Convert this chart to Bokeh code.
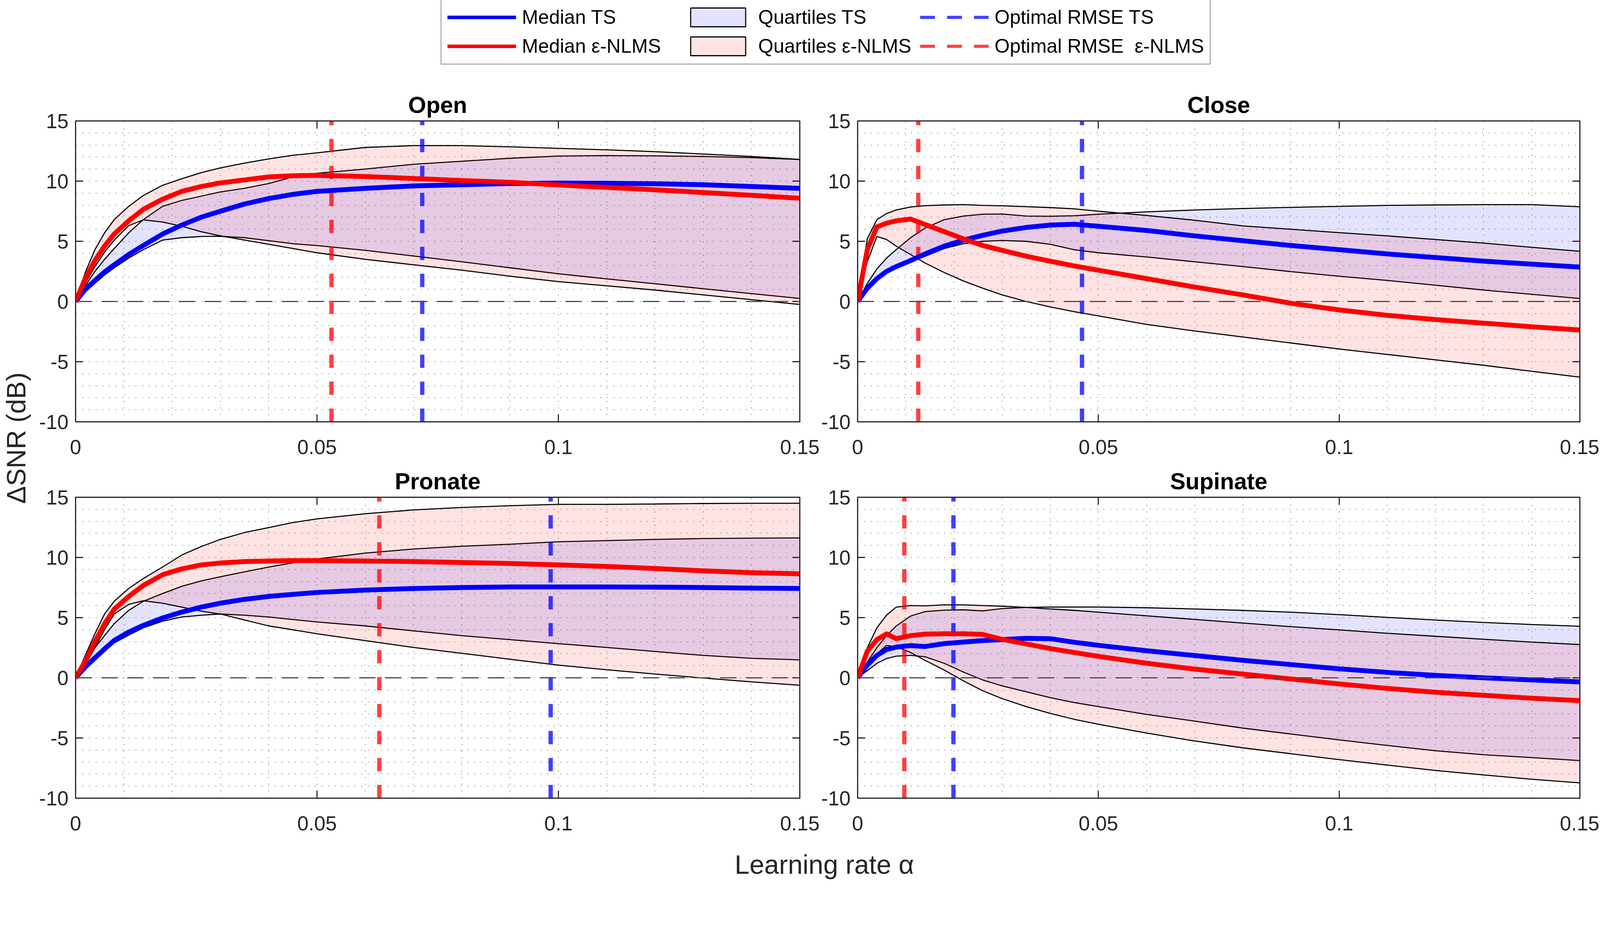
import numpy as np
from bokeh.plotting import figure
from bokeh.layouts import row, column
from bokeh.models import Range1d, FixedTicker, Span, Legend, LegendItem, Label, LinearAxis
from bokeh.embed import file_html
from bokeh.resources import INLINE

# ---------------- data ----------------
ALPHA = [0, 0.002, 0.004, 0.006, 0.008, 0.011, 0.014, 0.018, 0.022, 0.026, 0.03, 0.035,
         0.04, 0.045, 0.05, 0.06, 0.07, 0.08, 0.09, 0.1, 0.11, 0.12, 0.13, 0.14, 0.15]

X_TICKS = [0, 0.05, 0.1, 0.15]
X_TICK_LABELS = ["0", "0.05", "0.1", "0.15"]
Y_TICKS = [-10, -5, 0, 5, 10, 15]
Y_TICK_LABELS = ["-10", "-5", "0", "5", "10", "15"]
X_LIM = (0, 0.15)
Y_LIM = (-10, 15)

TITLES = ["Open", "Close", "Pronate", "Supinate"]

OPEN_MED_TS = [0, 1.0, 1.75, 2.45, 3.05, 3.9, 4.65, 5.6, 6.35, 7.0, 7.5, 8.1, 8.55, 8.9, 9.15, 9.4, 9.6, 9.7, 9.8, 9.84, 9.82, 9.78, 9.7, 9.55, 9.4]
OPEN_MED_NLMS = [0, 1.9, 3.4, 4.6, 5.6, 6.7, 7.65, 8.5, 9.15, 9.55, 9.85, 10.1, 10.35, 10.45, 10.48, 10.38, 10.22, 10.05, 9.9, 9.68, 9.48, 9.28, 9.05, 8.82, 8.58]
OPEN_Q1_TS = [0, 0.8, 1.5, 2.2, 2.8, 3.6, 4.3, 5.1, 5.3, 5.4, 5.42, 5.3, 5.05, 4.8, 4.65, 4.25, 3.78, 3.3, 2.8, 2.3, 1.88, 1.47, 1.06, 0.65, 0.25]
OPEN_Q3_TS = [0, 1.3, 2.5, 3.5, 4.4, 5.7, 6.8, 7.9, 8.4, 8.75, 9.1, 9.4, 9.8, 10.35, 10.65, 11.0, 11.4, 11.65, 11.9, 12.08, 12.12, 12.1, 12.05, 11.95, 11.8]
OPEN_Q1_NLMS = [0, 1.5, 2.9, 4.1, 5.1, 6.3, 6.78, 6.6, 6.25, 5.8, 5.45, 5.1, 4.75, 4.4, 4.05, 3.5, 3.05, 2.6, 2.1, 1.65, 1.3, 0.95, 0.55, 0.15, -0.25]
OPEN_Q3_NLMS = [0, 2.4, 4.3, 5.7, 6.8, 7.9, 8.8, 9.65, 10.2, 10.7, 11.1, 11.5, 11.85, 12.15, 12.35, 12.8, 12.95, 12.95, 12.85, 12.72, 12.6, 12.45, 12.25, 12.05, 11.8]

CLOSE_MED_TS = [0, 1.1, 1.9, 2.5, 2.9, 3.4, 3.95, 4.6, 5.1, 5.5, 5.85, 6.15, 6.35, 6.42, 6.25, 5.9, 5.45, 5.05, 4.65, 4.3, 3.95, 3.65, 3.35, 3.1, 2.86]
CLOSE_MED_NLMS = [0, 4.3, 6.2, 6.5, 6.7, 6.85, 6.4, 5.8, 5.2, 4.65, 4.25, 3.76, 3.35, 2.95, 2.6, 1.9, 1.2, 0.55, -0.15, -0.7, -1.15, -1.5, -1.8, -2.1, -2.37]
CLOSE_Q1_TS = [0, 1.0, 1.8, 2.4, 2.8, 3.3, 3.75, 4.4, 4.8, 5.0, 5.07, 5.0, 4.75, 4.3, 4.05, 3.7, 3.3, 2.9, 2.48, 2.1, 1.75, 1.35, 0.95, 0.6, 0.25]
CLOSE_Q3_TS = [0, 1.5, 2.7, 3.6, 4.3, 5.3, 6.1, 6.8, 7.1, 7.25, 7.27, 7.1, 7.08, 7.12, 7.25, 7.45, 7.6, 7.72, 7.82, 7.9, 7.98, 8.02, 8.05, 8.05, 7.87]
CLOSE_Q1_NLMS = [0, 3.3, 5.4, 5.15, 4.6, 3.9, 3.2, 2.4, 1.7, 1.1, 0.55, 0.0, -0.45, -0.85, -1.2, -1.9, -2.45, -2.95, -3.45, -3.95, -4.4, -4.85, -5.3, -5.8, -6.29]
CLOSE_Q3_NLMS = [0, 5.2, 6.8, 7.3, 7.6, 7.85, 7.96, 8.02, 8.05, 7.98, 7.95, 7.88, 7.8, 7.7, 7.5, 7.15, 6.75, 6.28, 6.0, 5.72, 5.45, 5.15, 4.85, 4.5, 4.17]

PRONATE_MED_TS = [0, 0.9, 1.65, 2.4, 3.1, 3.8, 4.35, 4.97, 5.46, 5.87, 6.2, 6.52, 6.76, 6.93, 7.09, 7.29, 7.42, 7.5, 7.55, 7.55, 7.55, 7.53, 7.5, 7.45, 7.42]
PRONATE_MED_NLMS = [0, 1.37, 3.0, 4.48, 5.7, 6.76, 7.66, 8.56, 9.05, 9.38, 9.54, 9.66, 9.7, 9.74, 9.74, 9.7, 9.66, 9.58, 9.5, 9.38, 9.25, 9.08, 8.89, 8.73, 8.64]
PRONATE_Q1_TS = [0, 0.8, 1.5, 2.2, 2.9, 3.55, 4.15, 4.7, 5.05, 5.2, 5.3, 5.2, 5.05, 4.84, 4.64, 4.31, 3.9, 3.5, 3.17, 2.84, 2.52, 2.19, 1.86, 1.62, 1.49]
PRONATE_Q3_TS = [0, 1.3, 2.5, 3.5, 4.5, 5.6, 6.35, 7.0, 7.6, 8.05, 8.4, 8.8, 9.2, 9.55, 9.87, 10.36, 10.7, 10.93, 11.1, 11.3, 11.4, 11.5, 11.57, 11.6, 11.62]
PRONATE_Q1_NLMS = [0, 1.05, 2.5, 4.0, 5.3, 6.1, 6.4, 6.2, 5.87, 5.54, 5.3, 4.8, 4.31, 3.99, 3.66, 3.09, 2.52, 2.03, 1.54, 1.05, 0.67, 0.31, -0.02, -0.34, -0.62]
PRONATE_Q3_NLMS = [0, 1.86, 3.66, 5.3, 6.36, 7.42, 8.24, 9.2, 10.2, 10.9, 11.5, 12.07, 12.48, 12.9, 13.2, 13.63, 13.95, 14.15, 14.3, 14.41, 14.41, 14.44, 14.48, 14.5, 14.5]

SUPINATE_MED_TS = [0, 1.05, 1.86, 2.35, 2.55, 2.68, 2.6, 2.84, 2.97, 3.09, 3.17, 3.28, 3.25, 2.95, 2.7, 2.25, 1.85, 1.45, 1.1, 0.75, 0.45, 0.2, 0.0, -0.18, -0.34]
SUPINATE_MED_NLMS = [0, 2.2, 3.17, 3.65, 3.25, 3.5, 3.63, 3.66, 3.66, 3.6, 3.2, 2.81, 2.43, 2.1, 1.78, 1.21, 0.72, 0.31, -0.1, -0.51, -0.88, -1.2, -1.45, -1.7, -1.9]
SUPINATE_Q1_TS = [0, 0.6, 1.2, 1.6, 1.8, 1.86, 1.75, 1.2, 0.47, -0.18, -0.67, -1.16, -1.65, -2.06, -2.39, -3.04, -3.6, -4.18, -4.67, -5.16, -5.62, -6.06, -6.39, -6.63, -6.88]
SUPINATE_Q3_TS = [0, 1.3, 2.5, 3.5, 4.3, 5.13, 5.5, 5.62, 5.65, 5.56, 5.75, 5.85, 5.88, 5.88, 5.88, 5.82, 5.72, 5.6, 5.45, 5.25, 5.02, 4.8, 4.6, 4.43, 4.28]
SUPINATE_Q1_NLMS = [0, 0.9, 2.0, 2.68, 2.6, 2.1, 1.45, 0.64, -0.26, -1.08, -1.73, -2.39, -2.96, -3.45, -3.86, -4.59, -5.25, -5.82, -6.31, -6.8, -7.25, -7.7, -8.07, -8.43, -8.73]
SUPINATE_Q3_NLMS = [0, 2.5, 4.15, 5.2, 5.87, 6.0, 5.98, 6.06, 6.06, 6.0, 5.95, 5.85, 5.72, 5.6, 5.45, 5.15, 4.85, 4.55, 4.25, 3.98, 3.7, 3.45, 3.2, 2.97, 2.76]

OPT_TS = [0.0718, 0.0466, 0.0984, 0.0199]
OPT_NLMS = [0.053, 0.0126, 0.0629, 0.0097]

LEGEND_LABELS = ["Median TS", "Median \u03b5-NLMS", "Quartiles TS", "Quartiles \u03b5-NLMS",
                 "Optimal RMSE TS", "Optimal RMSE  \u03b5-NLMS"]

# ---------------- style ----------------
FONT = "Liberation Sans"
TXT = "#262626"
BLUE = "#0000FF"
RED = "#FF0000"
FILL_ALPHA = 0.11
MED_W = 12.5
EDGE_W = 2.8
VDASH = "34 35"
VW = 11

X_MINOR = [round(0.01 * i, 2) for i in range(1, 15) if i % 5 != 0]
Y_MINOR = [v for v in range(-10, 16) if v % 5 != 0]


def style_axis(ax, ticker, standoff, labels=True):
    ax.ticker = ticker
    ax.axis_line_color = TXT
    ax.axis_line_width = 2.8
    ax.major_tick_line_color = TXT
    ax.major_tick_line_width = 2.8
    ax.major_tick_in = 19
    ax.major_tick_out = 0
    ax.minor_tick_line_color = None
    ax.major_label_standoff = standoff
    if labels:
        ax.major_label_text_font = FONT
        ax.major_label_text_font_size = "52px"
        ax.major_label_text_color = TXT
    else:
        ax.major_label_text_font_size = "0px"
        ax.major_label_text_color = None


def make_panel(k, med_ts, med_nlms, q1_ts, q3_ts, q1_nlms, q3_nlms,
               width, height, bl, br, bt, bb):
    p = figure(width=width, height=height, x_range=Range1d(*X_LIM), y_range=Range1d(*Y_LIM),
               output_backend="svg", toolbar_location=None,
               min_border_left=bl, min_border_right=br, min_border_top=bt, min_border_bottom=bb)
    p.title.text = TITLES[k]
    p.title.text_font = FONT
    p.title.text_font_size = "59px"
    p.title.text_font_style = "bold"
    p.title.text_color = "black"
    p.title.align = "center"
    p.title.standoff = 15

    xt = FixedTicker(ticks=X_TICKS, minor_ticks=X_MINOR)
    yt = FixedTicker(ticks=Y_TICKS, minor_ticks=Y_MINOR)
    style_axis(p.xaxis[0], xt, 42)
    style_axis(p.yaxis[0], yt, 14)
    p.xaxis[0].major_label_overrides = {t: s for t, s in zip(X_TICKS, X_TICK_LABELS)}
    p.yaxis[0].major_label_overrides = {t: s for t, s in zip(Y_TICKS, Y_TICK_LABELS)}
    top = LinearAxis()
    style_axis(top, FixedTicker(ticks=X_TICKS), 0, labels=False)
    p.add_layout(top, "above")
    right = LinearAxis()
    style_axis(right, FixedTicker(ticks=Y_TICKS), 0, labels=False)
    p.add_layout(right, "right")

    for g, t in ((p.xgrid[0], xt), (p.ygrid[0], yt)):
        g.ticker = t
        g.grid_line_color = "#9c9c9c"
        g.grid_line_width = 2
        g.grid_line_dash = "3 14"
        g.minor_grid_line_color = "#9c9c9c"
        g.minor_grid_line_width = 2
        g.minor_grid_line_dash = "3 14"

    p.outline_line_color = TXT
    p.outline_line_width = 2.8
    p.background_fill_color = "white"
    p.border_fill_color = "white"

    x = np.array(ALPHA)
    xs = np.concatenate([x, x[::-1]])
    p.patch(xs, np.concatenate([np.array(q3_ts), np.array(q1_ts)[::-1]]),
            fill_color=BLUE, fill_alpha=FILL_ALPHA, line_color="black", line_width=EDGE_W)
    p.patch(xs, np.concatenate([np.array(q3_nlms), np.array(q1_nlms)[::-1]]),
            fill_color=RED, fill_alpha=FILL_ALPHA, line_color="black", line_width=EDGE_W)

    p.add_layout(Span(location=0, dimension="width", line_color="#4a4a4a",
                      line_width=2.8, line_dash="42 24"))

    p.segment(x0=[OPT_NLMS[k]], y0=[Y_LIM[0]], x1=[OPT_NLMS[k]], y1=[Y_LIM[1]],
              line_color=RED, line_alpha=0.75, line_width=VW, line_dash=VDASH)
    p.segment(x0=[OPT_TS[k]], y0=[Y_LIM[0]], x1=[OPT_TS[k]], y1=[Y_LIM[1]],
              line_color=BLUE, line_alpha=0.75, line_width=VW, line_dash=VDASH)

    p.line(x, med_ts, line_color=BLUE, line_width=MED_W, line_join="round")
    p.line(x, med_nlms, line_color=RED, line_width=MED_W, line_join="round")
    return p


YL_W = 92
TL_W, TR_W = 2007, 1995
LEG_H = 190
R1_H, R2_H = 992, 963
XL_H = 108
MAIN_W = TL_W + TR_W
TOTAL_H = LEG_H + R1_H + R2_H + XL_H

p_open = make_panel(0, OPEN_MED_TS, OPEN_MED_NLMS, OPEN_Q1_TS, OPEN_Q3_TS, OPEN_Q1_NLMS, OPEN_Q3_NLMS,
                    TL_W, R1_H, 101, 52, 119, 103)
p_close = make_panel(1, CLOSE_MED_TS, CLOSE_MED_NLMS, CLOSE_Q1_TS, CLOSE_Q3_TS, CLOSE_Q1_NLMS, CLOSE_Q3_NLMS,
                     TR_W, R1_H, 93, 50, 119, 103)
p_pron = make_panel(2, PRONATE_MED_TS, PRONATE_MED_NLMS, PRONATE_Q1_TS, PRONATE_Q3_TS, PRONATE_Q1_NLMS, PRONATE_Q3_NLMS,
                    TL_W, R2_H, 101, 52, 90, 103)
p_sup = make_panel(3, SUPINATE_MED_TS, SUPINATE_MED_NLMS, SUPINATE_Q1_TS, SUPINATE_Q3_TS, SUPINATE_Q1_NLMS, SUPINATE_Q3_NLMS,
                   TR_W, R2_H, 93, 50, 90, 103)

# ---------------- legend ----------------
lf = figure(width=MAIN_W, height=LEG_H, x_range=Range1d(0, 1), y_range=Range1d(0, 1),
            output_backend="svg", toolbar_location=None, min_border=0)
lf.axis.visible = False
lf.grid.visible = False
lf.outline_line_color = None
# legend-only renderers, drawn outside the visible range of this strip
HX, HY = [2, 3, 3], [2, 2, 3]
r_mts = lf.line(HX, HY, line_color=BLUE, line_width=9)
r_mn = lf.line(HX, HY, line_color=RED, line_width=9)
r_qts = lf.patch(HX, HY, fill_color=BLUE, fill_alpha=FILL_ALPHA, line_color="black", line_width=EDGE_W)
r_qn = lf.patch(HX, HY, fill_color=RED, fill_alpha=FILL_ALPHA, line_color="black", line_width=EDGE_W)
r_ots = lf.line(HX, HY, line_color=BLUE, line_alpha=0.75, line_width=8, line_dash="38 31")
r_on = lf.line(HX, HY, line_color=RED, line_alpha=0.75, line_width=8, line_dash="38 31")
rends = [r_mts, r_mn, r_qts, r_qn, r_ots, r_on]
legend = Legend(items=[LegendItem(label=l, renderers=[r]) for l, r in zip(LEGEND_LABELS, rends)],
                location=(1036, LEG_H - 165), orientation="vertical", ncols=3,
                glyph_width=176, glyph_height=60, label_standoff=15, spacing=14,
                padding=15, margin=0, label_width=400,
                label_text_font=FONT, label_text_font_size="50px", label_text_color="black",
                border_line_color=TXT, border_line_width=2.8, background_fill_color="white",
                background_fill_alpha=1.0)
lf.add_layout(legend)

# ---------------- axis titles ----------------
xf = figure(width=MAIN_W, height=XL_H, x_range=Range1d(0, 1), y_range=Range1d(0, 1),
            output_backend="svg", toolbar_location=None, min_border=0)
xf.axis.visible = False
xf.grid.visible = False
xf.outline_line_color = None
xf.add_layout(Label(x=0.5042, y=0.385, text="Learning rate \u03b1", text_align="center",
                    text_baseline="middle", text_font=FONT, text_font_size="68px", text_color=TXT))

yf = figure(width=YL_W, height=TOTAL_H, x_range=Range1d(0, 1), y_range=Range1d(0, 1),
            output_backend="svg", toolbar_location=None, min_border=0)
yf.axis.visible = False
yf.grid.visible = False
yf.outline_line_color = None
yf.add_layout(Label(x=0.44, y=0.5026, text="\u0394SNR (dB)", text_align="center",
                    text_baseline="middle", angle=np.pi / 2, text_font=FONT,
                    text_font_size="68px", text_color=TXT))

layout = row(yf, column(lf, row(p_open, p_close), row(p_pron, p_sup), xf))

open("out.html", "w").write(file_html(layout, INLINE))
